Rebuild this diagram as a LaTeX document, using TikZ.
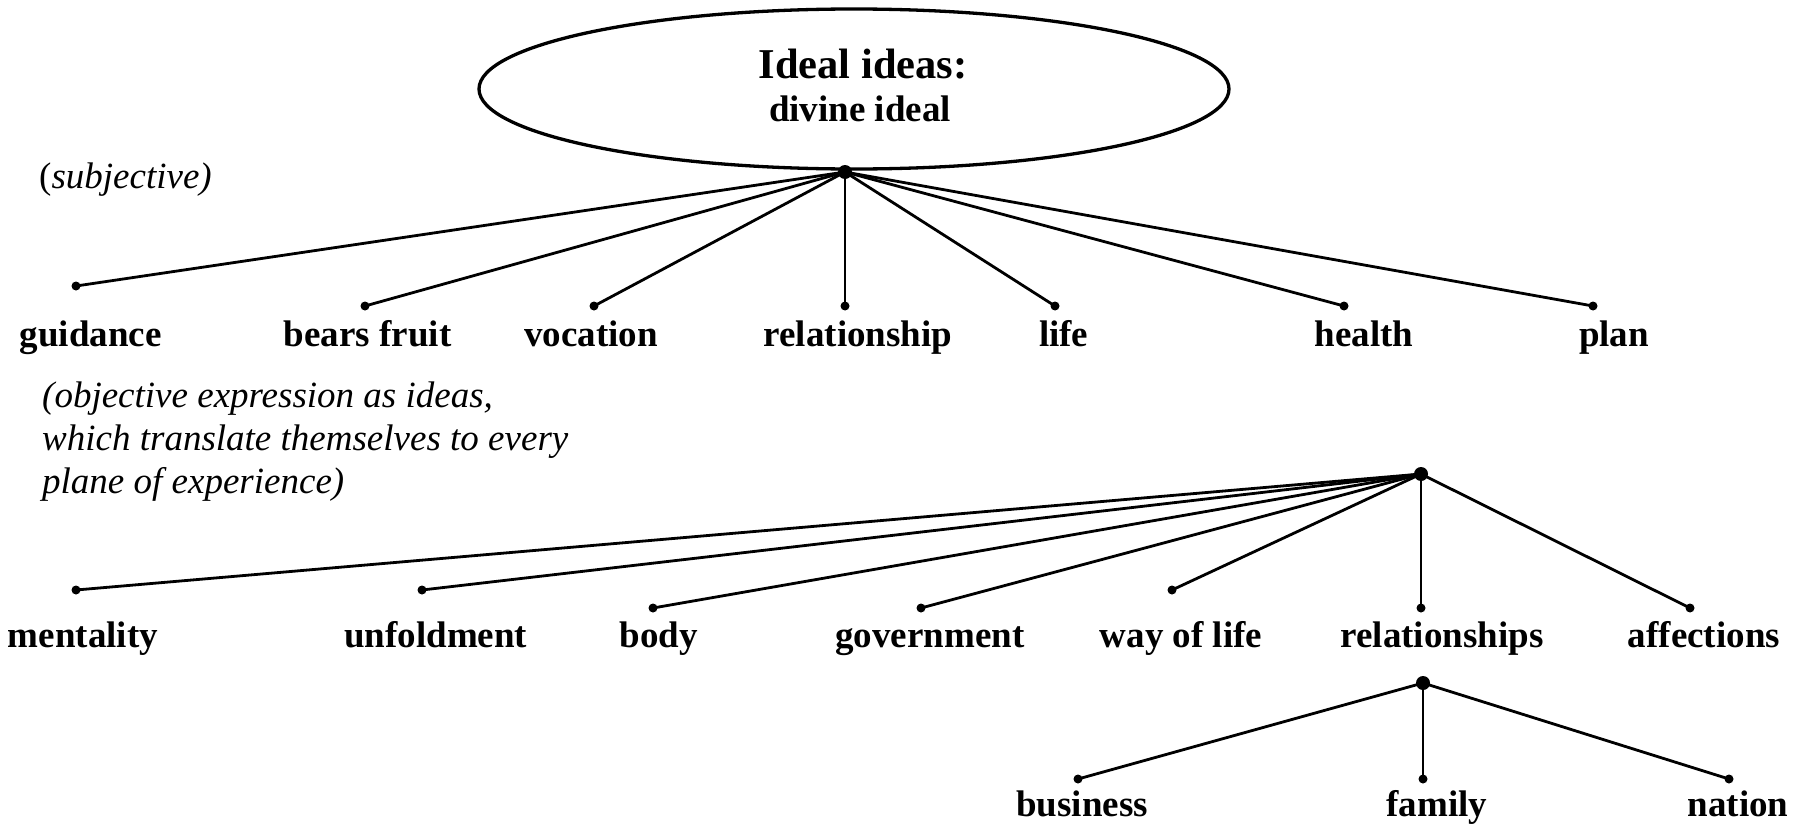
\documentclass[tikz,border=0pt]{standalone}
\usepackage{fontspec}
\setmainfont{Liberation Serif}
\usetikzlibrary{shapes.geometric}
\begin{document}
\begin{tikzpicture}[x=1pt,y=-1pt,
  conn/.style={line width=2.8pt},
  dotn/.style={circle,fill=black,inner sep=0pt,minimum size=9pt},
  hubn/.style={circle,fill=black,inner sep=0pt,minimum size=14pt},
  lbl/.style={anchor=base,inner sep=0pt,font=\fontsize{37}{43}\selectfont\bfseries},
  note/.style={anchor=base west,inner sep=0pt,font=\fontsize{37}{43}\selectfont\itshape}]
\useasboundingbox (0,0) rectangle (1810,827);
% ellipse
\node[draw,ellipse,line width=3.3pt,minimum width=750pt,minimum height=160pt] (top) at (854,89) {};
\node[anchor=base,inner sep=0pt,font=\fontsize{42.5}{50}\selectfont\bfseries] (t1) at (863,78) {Ideal ideas:};
\node[anchor=base,inner sep=0pt,font=\fontsize{37}{43}\selectfont\bfseries] (t2) at (860,121) {divine ideal};
% notes
\node[note] (n1) at (39,188) {\textup{(}subjective)};
\node[note] (n2) at (42,407) {(objective expression as ideas,};
\node[note] (n3) at (42,450) {which translate themselves to every};
\node[note] (n4) at (42,493) {plane of experience)};
% hub 1
\node[hubn] (h1) at (845,172) {};
\node[dotn] (d1) at (76,286) {};
\node[dotn] (d2) at (365,306) {};
\node[dotn] (d3) at (594,306) {};
\node[dotn] (d4) at (845,306) {};
\node[dotn] (d5) at (1055,306) {};
\node[dotn] (d6) at (1344,306) {};
\node[dotn] (d7) at (1593,306) {};
\foreach \i in {1,...,7} \draw[conn] (h1.center) -- (d\i.center);
\node[lbl] (l1) at (90.6,346) {guidance};
\node[lbl] (l2) at (367.6,346) {bears fruit};
\node[lbl] (l3) at (591,346) {vocation};
\node[lbl] (l4) at (858,346) {relationship};
\node[lbl] (l5) at (1063.7,346) {life};
\node[lbl] (l6) at (1364,346) {health};
\node[lbl] (l7) at (1614,346) {plan};
% hub 2
\node[hubn] (h2) at (1421,474) {};
\node[dotn] (e1) at (76,590) {};
\node[dotn] (e2) at (422,590) {};
\node[dotn] (e3) at (653,608) {};
\node[dotn] (e4) at (921,608) {};
\node[dotn] (e5) at (1172,590) {};
\node[dotn] (e6) at (1421,608) {};
\node[dotn] (e7) at (1690,608) {};
\foreach \i in {1,...,7} \draw[conn] (h2.center) -- (e\i.center);
\node[lbl] (m1) at (83,647) {mentality};
\node[lbl] (m2) at (435.7,647) {unfoldment};
\node[lbl] (m3) at (658.5,647) {body};
\node[lbl] (m4) at (930,647) {government};
\node[lbl] (m5) at (1181,647) {way of life};
\node[lbl] (m6) at (1442,647) {relationships};
\node[lbl] (m7) at (1704,647) {affections};
% hub 3
\node[hubn] (h3) at (1423,683) {};
\node[dotn] (f1) at (1078,779) {};
\node[dotn] (f2) at (1423,779) {};
\node[dotn] (f3) at (1729,779) {};
\foreach \i in {1,2,3} \draw[conn] (h3.center) -- (f\i.center);
\node[lbl] (p1) at (1082,816) {business};
\node[lbl] (p2) at (1437,816) {family};
\node[lbl] (p3) at (1738,816) {nation};
\end{tikzpicture}
\end{document}
